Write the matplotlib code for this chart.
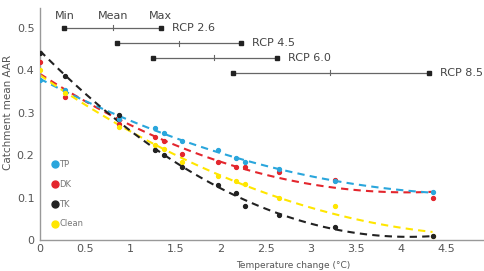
import numpy as np
import matplotlib
matplotlib.use("Agg")
import matplotlib.pyplot as plt
from matplotlib.lines import Line2D

# Data
temp = [0, 0.28, 0.87, 1.27, 1.37, 1.57, 1.97, 2.17, 2.27, 2.65, 3.27, 4.35]
tp = [0.377, 0.354, 0.285, 0.263, 0.252, 0.234, 0.212, 0.192, 0.183, 0.168, 0.138, 0.112]
dk = [0.418, 0.336, 0.274, 0.243, 0.232, 0.203, 0.184, 0.171, 0.171, 0.160, 0.142, 0.100]
tk = [0.441, 0.386, 0.294, 0.211, 0.200, 0.171, 0.130, 0.110, 0.080, 0.059, 0.030, 0.009]
clean = [0.399, 0.345, 0.265, 0.223, 0.213, 0.183, 0.151, 0.139, 0.132, 0.100, 0.080, 0.009]

series_names = ["TP", "DK", "TK", "Clean"]
series_vals = [tp, dk, tk, clean]
colors = ["#2aa6dc", "#e3262d", "#222222", "#ffe600"]

# RCP temperature ranges (min, mean, max)
rcp_names = ["RCP 2.6", "RCP 4.5", "RCP 6.0", "RCP 8.5"]
rcp_min = [0.27, 0.85, 1.25, 2.14]
rcp_mean = [0.81, 1.54, 1.93, 3.21]
rcp_max = [1.34, 2.23, 2.63, 4.31]
rcp_y = [0.5, 0.463, 0.429, 0.394]

fig = plt.figure(figsize=(4.84, 2.71), dpi=100)
ax = fig.add_axes([40 / 484, 31 / 271, 444 / 484, 232 / 271])

xs = np.linspace(0, max(temp), 100)
order = [1, 0, 3, 2]  # draw yellow under the others like the original
for i in order:
    vals = series_vals[i]
    c = colors[i]
    coef = np.polyfit(temp, vals, 2)
    ax.plot(xs, np.polyval(coef, xs), color=c, lw=1.5, ls=(0, (3.5, 2.5)), zorder=2)
    ax.plot(temp, vals, "o", color=c, ms=2.8, zorder=3)

# RCP range bars
for name, lo, mid, hi, y in zip(rcp_names, rcp_min, rcp_mean, rcp_max, rcp_y):
    ax.plot([lo, hi], [y, y], color="#666666", lw=0.9, zorder=2)
    ax.plot([lo, hi], [y, y], "s", color="#222222", ms=3, zorder=3)
    ax.plot([mid, mid], [y - 0.006, y + 0.006], color="#666666", lw=0.8)
    ax.text(hi + 0.12, y, name, fontsize=8, color="#444444", va="center", ha="left")

for lab, xv in zip(["Min", "Mean", "Max"], [rcp_min[0], rcp_mean[0], rcp_max[0]]):
    ax.text(xv, 0.528, lab, fontsize=8, color="#444444", ha="center", va="center")

ax.set_xlim(0, 4.92)
ax.set_ylim(0, 0.546)
ax.set_xticks([0, 0.5, 1, 1.5, 2, 2.5, 3, 3.5, 4, 4.5])
ax.set_xticklabels(["0", "0.5", "1", "1.5", "2", "2.5", "3", "3.5", "4", "4.5"])
ax.set_yticks([0, 0.1, 0.2, 0.3, 0.4, 0.5])
ax.set_yticklabels(["0", "0.1", "0.2", "0.3", "0.4", "0.5"])
ax.tick_params(length=0, labelsize=8, labelcolor="#555555", pad=4)
ax.tick_params(axis="x", pad=3)
for s in ["top", "right"]:
    ax.spines[s].set_visible(False)
for s in ["left", "bottom"]:
    ax.spines[s].set_color("#999999")
    ax.spines[s].set_linewidth(1.0)

fig.text(8 / 484, 1 - 112 / 271, "Catchment mean AAR", rotation=90, fontsize=7.5,
         color="#555555", ha="center", va="center")
fig.text(293 / 484, 1 / 271, "Temperature change (°C)", fontsize=6.5,
         color="#555555", ha="center", va="bottom")

handles = [Line2D([], [], ls="none", marker="o", color=c, ms=5) for c in colors]
leg = ax.legend(handles, series_names, loc="upper left", bbox_to_anchor=(0.015, 0.37),
                frameon=False, fontsize=6, labelspacing=1.3, handlelength=0.6,
                handletextpad=0.2, borderpad=0.2)
for t in leg.get_texts():
    t.set_color("#777777")

fig.savefig("out.png", dpi=100)
